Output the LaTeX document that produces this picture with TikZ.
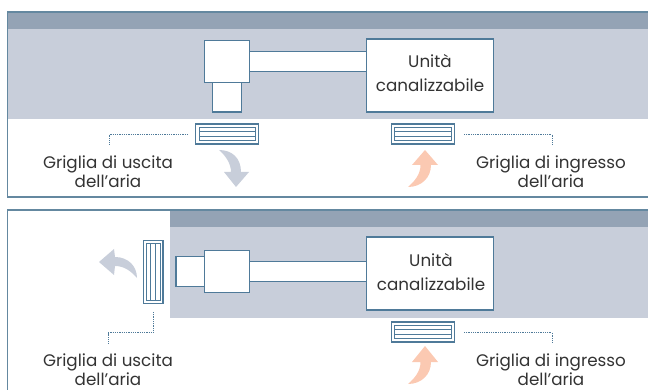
\documentclass[tikz,border=0pt]{standalone}
\usepackage{fontspec}
\setmainfont{Poppins}
\definecolor{lineblue}{HTML}{4F7A99}
\definecolor{frameblue}{HTML}{6488A0}
\definecolor{band}{HTML}{94A3B5}
\definecolor{ceil}{HTML}{C8CEDA}
\definecolor{cold}{HTML}{C8CEDA}
\definecolor{warm}{HTML}{FBC9B2}
\definecolor{ink}{HTML}{333333}
\tikzset{
  px/.style={x=1pt,y=-1pt},
  boxnode/.style={draw=lineblue,line width=1.05pt,fill=white,inner sep=0pt,outer sep=0pt,anchor=north west},
  frameline/.style={draw=frameblue,line width=1.3pt},
  ductline/.style={draw=lineblue,line width=1.05pt},
  slat/.style={draw=lineblue,line width=1pt},
  leader/.style={draw=lineblue,line width=0.9pt,dash pattern=on 1pt off 0.8pt},
  lbl/.style={text=ink,font=\fontsize{16.75}{19}\selectfont,align=center,inner sep=0pt,anchor=center},
  unitlbl/.style={text=ink,font=\fontsize{16.75}{23.5}\selectfont,align=center,inner sep=0pt,anchor=center},
}
\begin{document}
\begin{tikzpicture}[px]
\useasboundingbox (0,0) rectangle (648,390);
\clip (0,0) rectangle (648,390);
% top panel
\fill[ceil] (8,29) rectangle (648,119);
\fill[band] (8,12) rectangle (648,29);
\draw[frameline] (649,12) -- (7.5,12) -- (7.5,197) -- (649,197);
% bottom panel
\fill[ceil] (170,227) rectangle (648,318);
\fill[band] (170,210) rectangle (648,227);
\draw[frameline] (649,210) -- (7.5,210) -- (7.5,391);
% top equipment
\fill[white] (249,52) rectangle (367,71);
\node[boxnode,minimum width=29pt,minimum height=30pt] (ta) at (212.6,82) {};
\node[boxnode,minimum width=44.4pt,minimum height=42pt] (tb) at (204.8,40.5) {};
\node[boxnode,minimum width=126.4pt,minimum height=73pt] (tu) at (366.7,39) {};
\node[unitlbl] (tut) at (430,73) {Unità\\canalizzabile};
\coordinate (tb1) at (249,51.5); \coordinate (tu1) at (367,51.5);
\coordinate (tb2) at (249,71.5); \coordinate (tu2) at (367,71.5);
\draw[ductline] (tb1) -- (tu1) (tb2) -- (tu2);
% top grilles
\node[boxnode,minimum width=63pt,minimum height=20pt] (tg1) at (195.6,124) {};
\node[boxnode,minimum width=56.6pt,minimum height=13.5pt,line width=1pt] (tg1i) at (199,127.2) {};
\draw[slat] (199,131.7) -- (255.6,131.7) (199,136.2) -- (255.6,136.2);
\node[boxnode,minimum width=63pt,minimum height=20pt] (tg2) at (391.5,124) {};
\node[boxnode,minimum width=57pt,minimum height=13.5pt,line width=1pt] (tg2i) at (394.5,127.2) {};
\draw[slat] (394.5,131.7) -- (451.5,131.7) (394.5,136.2) -- (451.5,136.2);
% top leaders & labels
\coordinate (tl1) at (188,134.5); \coordinate (tl1e) at (109,145);
\coordinate (tl2) at (464,134.5); \coordinate (tl2e) at (552,145);
\draw[leader] (tl1) -| (tl1e);
\draw[leader] (tl2) -| (tl2e);
\node[lbl] (tx1) at (108,171.5) {Griglia di uscita\\dell’aria};
\node[lbl] (tx2) at (551,171.5) {Griglia di ingresso\\dell’aria};
% top arrows
\fill[cold] (219,150) .. controls (232,150) and (241,158) .. (241,172) -- (249,172) -- (236,187) -- (224,172) -- (231,172) .. controls (231,164) and (226,156) .. (219,150) -- cycle;
\fill[warm] (408,187) .. controls (421,187) and (431,178) .. (431,165) -- (438,165) -- (425,150) -- (412,165) -- (420.5,165) .. controls (420.5,174) and (415,181) .. (408,187) -- cycle;
% bottom equipment
\fill[white] (249,262) rectangle (367,281);
\node[boxnode,minimum width=29pt,minimum height=30pt] (ba) at (176,256.5) {};
\node[boxnode,minimum width=44.4pt,minimum height=42pt] (bb) at (204.8,250.5) {};
\node[boxnode,minimum width=126.4pt,minimum height=73pt] (bu) at (366.7,237) {};
\node[unitlbl] (but) at (431,272) {Unità\\canalizzabile};
\coordinate (bb1) at (249,261.5); \coordinate (bu1) at (367,261.5);
\coordinate (bb2) at (249,281.5); \coordinate (bu2) at (367,281.5);
\draw[ductline] (bb1) -- (bu1) (bb2) -- (bu2);
% bottom grilles
\node[boxnode,minimum width=19.5pt,minimum height=63pt] (bg1) at (143.5,240.5) {};
\node[boxnode,minimum width=13.5pt,minimum height=57pt,line width=1pt] (bg1i) at (146.5,243.5) {};
\draw[slat] (150.7,243.5) -- (150.7,300.5) (155.5,243.5) -- (155.5,300.5);
\node[boxnode,minimum width=63pt,minimum height=20pt] (bg2) at (391.5,322) {};
\node[boxnode,minimum width=57pt,minimum height=13.5pt,line width=1pt] (bg2i) at (394.5,325.2) {};
\draw[slat] (394.5,329.7) -- (451.5,329.7) (394.5,334.2) -- (451.5,334.2);
% bottom leaders & labels
\coordinate (bl1) at (153,312); \coordinate (blm) at (153,332.5); \coordinate (bl1e) at (108,343);
\coordinate (bl2) at (464,332.5); \coordinate (bl2e) at (552,343);
\draw[leader] (bl1) -- (blm) -| (bl1e);
\draw[leader] (bl2) -| (bl2e);
\node[lbl] (bx1) at (108,369.5) {Griglia di uscita\\dell’aria};
\node[lbl] (bx2) at (551,369.5) {Griglia di ingresso\\dell’aria};
% bottom arrows
\fill[cold] (137,278) .. controls (137,266) and (128,257) .. (115,257) -- (114,249) -- (99,262) -- (114,275) -- (115,266) .. controls (124,266) and (131,271) .. (137,278) -- cycle;
\fill[warm] (408,384) .. controls (421,384) and (431,375) .. (431,362) -- (438,362) -- (425,346) -- (412,362) -- (420.5,362) .. controls (420.5,371) and (415,378) .. (408,384) -- cycle;
\end{tikzpicture}
\end{document}
